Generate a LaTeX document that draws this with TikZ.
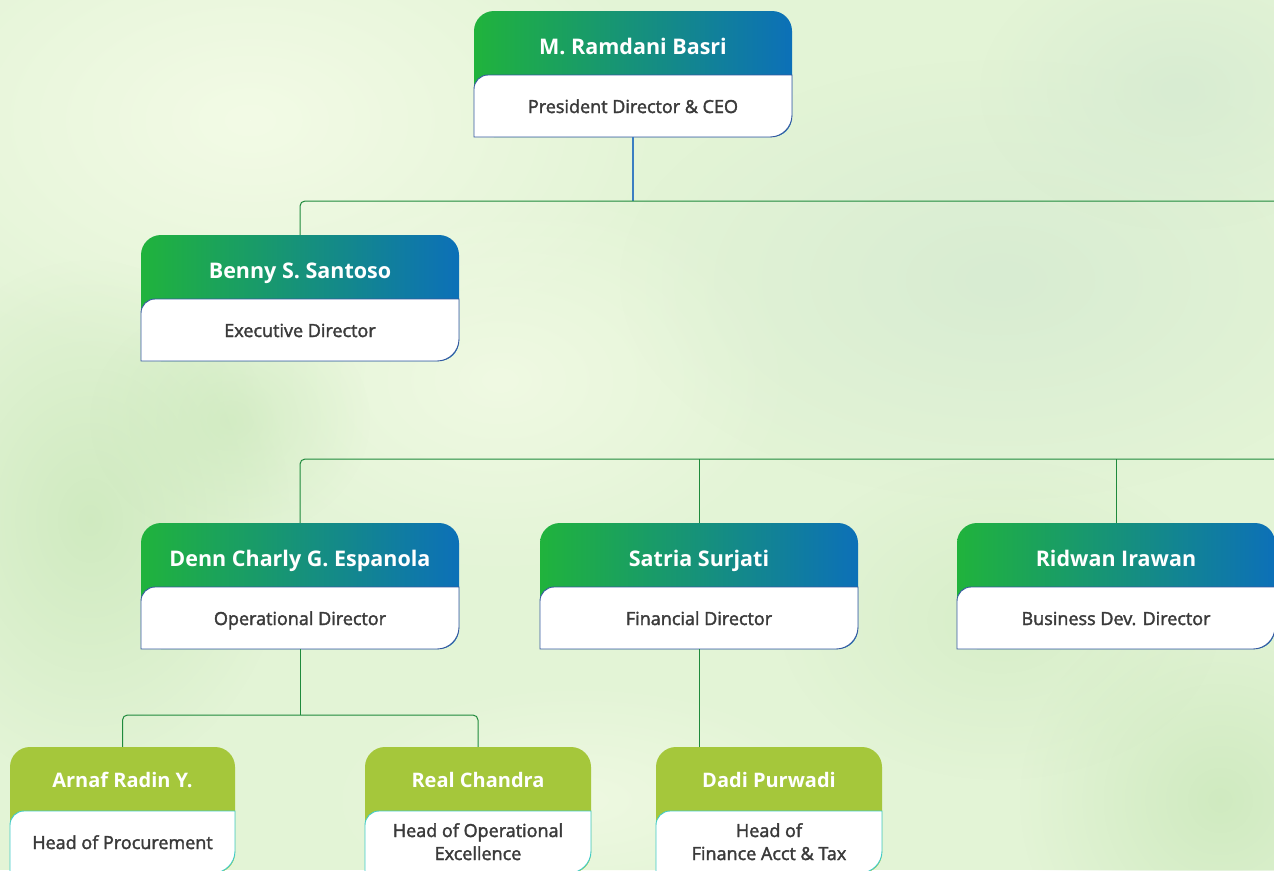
\documentclass[tikz,border=0pt]{standalone}
\usepackage{fontspec}
\setmainfont{Open Sans}
\newfontfamily\rolefont{Open Sans}[RawFeature={embolden=2}]
\usetikzlibrary{fadings}
\definecolor{bgbase}{HTML}{E3F4D6}
\definecolor{bgpale}{HTML}{F3FBE6}
\definecolor{bgdark}{HTML}{CBE8BB}
\definecolor{bggray}{HTML}{D8ECD2}
\definecolor{hgL}{HTML}{20B33C}
\definecolor{hgR}{HTML}{0C70B8}
\definecolor{limeH}{HTML}{A5C73B}
\definecolor{outTop}{HTML}{3558A0}
\definecolor{outLow}{HTML}{3FCBC8}
\definecolor{lineG}{HTML}{1F8A3C}
\definecolor{lineB}{HTML}{3B7EC2}
\definecolor{roleC}{HTML}{3A3A3A}
\tikzfading[name=softblob, inner color=transparent!0, outer color=transparent!100]
\newcommand\obnamesize{21.5}
\newcommand\obnamebase{43}
\tikzset{
  hdrtop/.style={left color=hgL, right color=hgR},
  hdrlow/.style={fill=limeH},
  conn/.style={draw=lineG, line width=1pt, rounded corners=5pt},
  connB/.style={draw=lineB, line width=1.1pt},
  nametxt/.style={text=white, font=\bfseries\fontsize{\obnamesize}{24}\selectfont, inner sep=0pt, anchor=base},
  roletxt/.style={text=roleC, font=\rolefont\fontsize{18}{23}\selectfont, align=center, inner sep=0pt, anchor=base},
  boxnode/.style={inner sep=0pt, draw=none},
  blob/.style={path fading=softblob}
}
% #1 id, #2 centre x, #3 top y, #4 width, #5 header style, #6 outline colour, #7 name, #8 role, #9 role baseline offset (last line)
\newcommand\orgbox[9]{%
  \pgfmathsetmacro\obxa{#2-#4/2}%
  \pgfmathsetmacro\obxb{#2+#4/2}%
  \pgfmathsetmacro\obyh{#3+64}%
  \pgfmathsetmacro\obyb{#3+126}%
  \node[boxnode, minimum width=#4pt, minimum height=126pt] (#1) at (#2,#3+63) {};
  \path[#5, rounded corners=20pt] (\obxa,#3) rectangle (\obxb,\obyb);
  \filldraw[fill=white, draw=#6, line width=0.9pt]
    (\obxa,\obyb) -- (\obxa,\obyh+14) arc[start angle=180, end angle=270, radius=14]
    -- (\obxb,\obyh) -- (\obxb,\obyb-22) arc[start angle=0, end angle=90, radius=22] -- cycle;
  \node[nametxt] (#1-n) at (#2,#3+\obnamebase) {#7};
  \node[roletxt] (#1-r) at (#2,#3+#9) {#8};
}
\begin{document}
\begin{tikzpicture}[x=1pt, y=-1pt]
\useasboundingbox (0,0) rectangle (1274,870);
\clip (0,0) rectangle (1274,870);
% background
\fill[bgbase] (0,0) rectangle (1274,870);
\fill[bgpale, blob] (250,120) ellipse (420 and 260);
\fill[bgpale, blob, opacity=0.8] (500,380) ellipse (300 and 200);
\fill[bgdark, blob, opacity=0.8] (90,520) ellipse (200 and 260);
\fill[bgdark, blob, opacity=0.6] (230,420) ellipse (140 and 120);
\fill[bggray, blob] (1000,280) ellipse (380 and 220);
\fill[bggray, blob] (1180,90) ellipse (200 and 140);
\fill[bgdark, blob, opacity=0.8] (1220,800) ellipse (200 and 200);
\fill[bgdark, blob, opacity=0.5] (1000,620) ellipse (220 and 160);
\fill[bgpale, blob, opacity=0.7] (580,800) ellipse (260 and 120);
% bus coordinates
\coordinate (bus1R) at (1274,201);
\coordinate (bus2R) at (1274,459);
\coordinate (j3) at (300,715);
% boxes
\orgbox{ceo}{633}{11}{318}{hdrtop}{outTop}{M. Ramdani Basri}{President Director \& CEO}{102}
\orgbox{benny}{300}{235}{318}{hdrtop}{outTop}{Benny S. Santoso}{Executive Director}{102}
\orgbox{denn}{300}{523}{318}{hdrtop}{outTop}{Denn Charly G. Espanola}{Operational Director}{102}
\orgbox{satria}{699}{523}{318}{hdrtop}{outTop}{Satria Surjati}{Financial Director}{102}
\orgbox{ridwan}{1116}{523}{318}{hdrtop}{outTop}{Ridwan Irawan}{Business Dev. Director}{102}
\renewcommand\obnamesize{20}
\renewcommand\obnamebase{40}
\orgbox{arnaf}{122.5}{747}{225}{hdrlow}{outLow}{Arnaf Radin Y.}{Head of Procurement}{102}
\orgbox{real}{478}{747}{226}{hdrlow}{outLow}{Real Chandra}{Head of Operational\\Excellence}{113}
\orgbox{dadi}{769}{747}{226}{hdrlow}{outLow}{Dadi Purwadi}{Head of\\Finance Acct \& Tax}{113}
% connectors
\draw[connB] (ceo.south) -- (ceo.south |- bus1R);
\draw[conn] (benny.north) |- (bus1R);
\draw[conn] (denn.north) |- (bus2R);
\draw[conn] (satria.north) -- (satria.north |- bus2R);
\draw[conn] (ridwan.north) -- (ridwan.north |- bus2R);
\draw[conn] (denn.south) -- (j3);
\draw[conn] (arnaf.north) |- (j3) -| (real.north);
\draw[conn] (satria.south) -- (satria.south |- dadi.north);
\end{tikzpicture}
\end{document}
